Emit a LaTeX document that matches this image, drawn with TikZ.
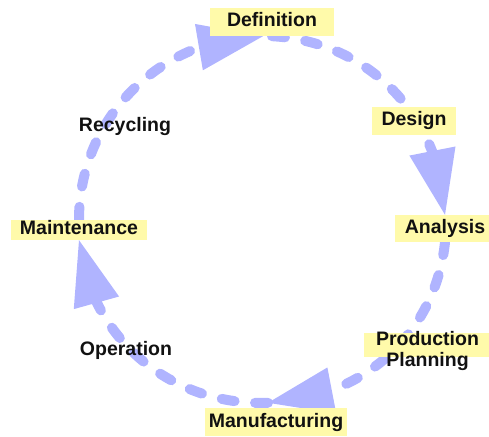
\documentclass[tikz,border=0pt]{standalone}
\usepackage{fontspec}
\setmainfont{Liberation Sans}
\usetikzlibrary{arrows.meta,bending}
\definecolor{flowblue}{RGB}{176,180,255}
\definecolor{boxyellow}{RGB}{255,250,170}
\definecolor{labeltext}{RGB}{17,17,17}
\pgfdeclarelayer{edgelayer}
\pgfsetlayers{edgelayer,main}
\begin{document}
\begin{tikzpicture}[x=1pt,y=1pt,
  lbl/.style={font=\fontsize{19.5}{21}\selectfont\bfseries, text=labeltext, inner sep=0pt},
  stage/.style={lbl, fill=boxyellow, text height=14pt, text depth=4pt},
  flow/.style={color=flowblue, line width=10pt, line cap=round, dash pattern=on 13pt off 20.5pt, looseness=1},
  flowtip/.style={flow, -{Triangle[length=65pt,width=47pt,line width=0pt]}}
]
\useasboundingbox (0,0) rectangle (489,436);
% stage boxes
\node[stage, minimum width=124pt, minimum height=28pt] (def) at (272,414) {Definition};
\node[stage, minimum width=84pt, minimum height=28pt] (design) at (414,315) {Design};
\node[stage, minimum width=101pt, minimum height=27pt] (ana) at (445,207.5) {Analysis};
\node[fill=boxyellow, minimum width=127pt, minimum height=24pt, inner sep=0pt] (ppbox) at (427.5,91) {};
\node[lbl, align=center, anchor=north] (pp) at (427.5,105) {Production\\Planning};
\node[stage, minimum width=142pt, minimum height=28pt] (manu) at (276,14) {Manufacturing};
\node[stage, minimum width=136pt, minimum height=20pt] (maint) at (79,206) {Maintenance};
% plain labels
\node[lbl, anchor=base] (rec) at (125,304) {Recycling};
\node[lbl, anchor=base] (op) at (126,81) {Operation};
% cycle connectors
\begin{pgfonlayer}{edgelayer}
\draw[flowtip] (maint.north) to[out=90,in=180] ([xshift=-9pt]def.south);
\draw[flowtip] (def.south) to[out=-3,in=92] (ana.north);
\draw[flowtip] (ana.south) to[out=-96,in=2] ([xshift=-8pt,yshift=5pt]manu.north);
\draw[flowtip] ([xshift=-8pt,yshift=5pt]manu.north) to[out=182,in=-84] (maint.south);
\end{pgfonlayer}
\end{tikzpicture}
\end{document}
